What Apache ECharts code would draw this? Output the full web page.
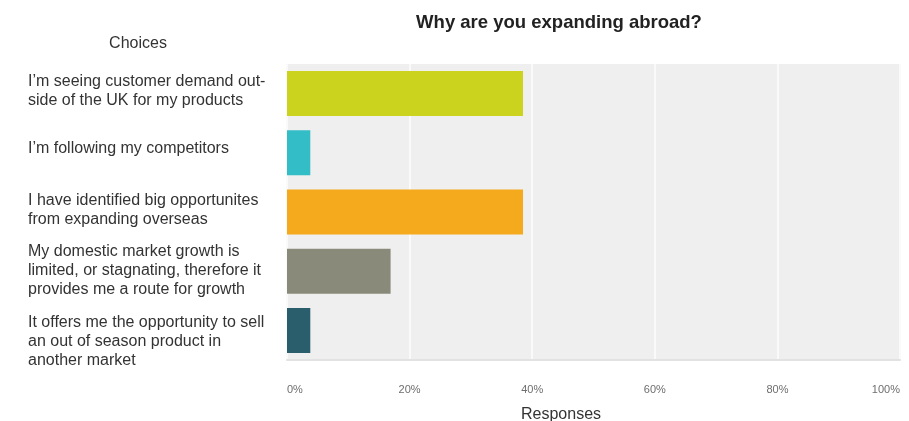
<!DOCTYPE html>
<html>
<head>
<meta charset="utf-8">
<title>Why are you expanding abroad?</title>
<script src="https://cdn.jsdelivr.net/npm/echarts@6/dist/echarts.min.js"></script>
<style>
  html, body { margin: 0; padding: 0; background: #ffffff; }
  #chart { width: 909px; height: 421px; }
</style>
</head>
<body>
<div id="chart"></div>
<script>
// Survey question and answer choices
const chartTitle = 'Why are you expanding abroad?';
const choicesHeading = 'Choices';
const axisTitle = 'Responses';

const choices = [
  'I\u2019m seeing customer demand out-\nside of the UK for my products',
  'I\u2019m following my competitors',
  'I have identified big opportunites\nfrom expanding overseas',
  'My domestic market growth is\nlimited, or stagnating, therefore it\nprovides me a route for growth',
  'It offers me the opportunity to sell\nan out of season product in\nanother market'
];

// Share of respondents per choice (%)
const responses = [38.5, 3.8, 38.5, 16.9, 3.8];

const barColors = ['#cbd31f', '#33bdc6', '#f5aa1d', '#8a8a7b', '#2a5e6c'];

// Percent ticks along the response axis
const tickValues = [0, 20, 40, 60, 80, 100];

// Vertical nudge of each choice label (px, negative = up)
const labelShift = [-3, -4, -1.5, -1, 11];

const chart = echarts.init(document.getElementById('chart'), null, { renderer: 'canvas' });

const font = '"Liberation Sans", Arial, Helvetica, sans-serif';

// Rich-text styles: 't' for the label text, 'g0'..'g4' for empty spacer rows
const labelRich = {
  t: { fontFamily: font, fontSize: 16, lineHeight: 19, color: '#333333', align: 'left' }
};
labelShift.forEach(function (s, i) {
  const h = Math.max(1, Math.abs(s) * 2);
  labelRich['g' + i] = { fontSize: 1, lineHeight: h, height: h };
});

chart.setOption({
  animation: false,
  backgroundColor: '#ffffff',
  title: [
    {
      text: chartTitle,
      left: 559,
      top: 13,
      padding: 0,
      textAlign: 'center',
      textStyle: { fontFamily: font, fontSize: 18.5, fontWeight: 'bold', color: '#222222' }
    },
    {
      text: choicesHeading,
      left: 138,
      top: 36,
      padding: 0,
      textAlign: 'center',
      textStyle: { fontFamily: font, fontSize: 16, fontWeight: 'normal', color: '#333333' }
    },
    {
      text: axisTitle,
      left: 561,
      top: 407,
      padding: 0,
      textAlign: 'center',
      textStyle: { fontFamily: font, fontSize: 16, fontWeight: 'normal', color: '#333333' }
    }
  ],
  grid: {
    left: 287,
    right: 9,
    top: 64,
    bottom: 61,
    containLabel: false,
    outerBoundsMode: 'none',
    show: true,
    backgroundColor: '#efefef',
    borderWidth: 0
  },
  xAxis: {
    type: 'value',
    min: 0,
    max: 100,
    interval: 20,
    axisLine: { show: true, lineStyle: { color: '#e2e2e2', width: 2 } },
    axisTick: { show: false },
    splitLine: { show: true, lineStyle: { color: '#fafafa', width: 2 } },
    axisLabel: {
      margin: 24,
      fontFamily: font,
      fontSize: 11,
      color: '#6e6e6e',
      alignMinLabel: 'left',
      alignMaxLabel: 'right',
      formatter: function (v) { return tickValues.indexOf(v) >= 0 ? v + '%' : ''; }
    }
  },
  yAxis: {
    type: 'category',
    inverse: true,
    data: choices.map(function (c) {
      return { value: c, textStyle: { align: 'left' } };
    }),
    axisLine: { show: false },
    axisTick: { show: false },
    splitLine: { show: false },
    axisLabel: {
      interval: 0,
      hideOverlap: false,
      align: 'left',
      margin: 259,
      fontFamily: font,
      fontSize: 16,
      lineHeight: 19,
      color: '#333333',
      rich: labelRich,
      formatter: function (value, index) {
        const lines = value.split('\n').map(function (l) { return '{t|' + l + '}'; }).join('\n');
        const gap = '{g' + index + '|}';
        return labelShift[index] > 0 ? gap + '\n' + lines : lines + '\n' + gap;
      }
    }
  },
  series: [
    {
      type: 'bar',
      barWidth: 45,
      data: responses.map(function (v, i) {
        return { value: v, itemStyle: { color: barColors[i] } };
      }),
      label: { show: false }
    }
  ]
});
</script>
</body>
</html>
